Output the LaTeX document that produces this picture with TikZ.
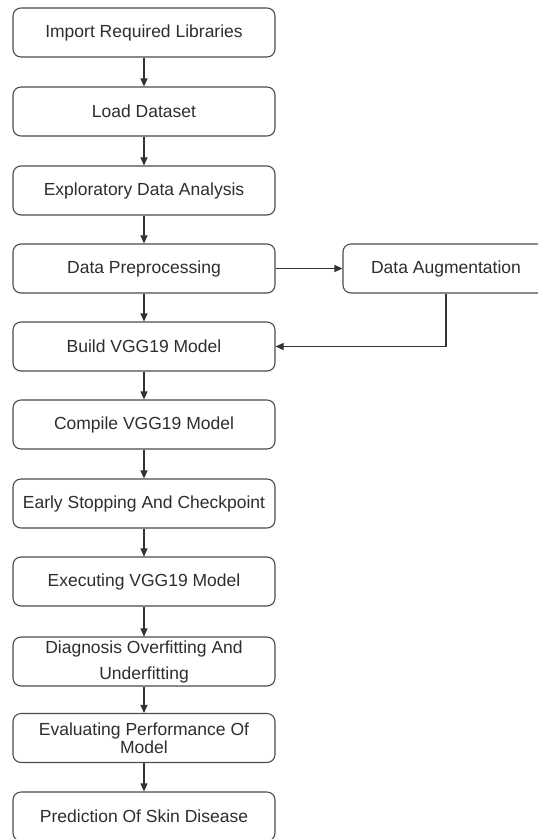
\documentclass[tikz,border=0pt]{standalone}
\usepackage{fontspec}
\setmainfont{Liberation Sans}
\usetikzlibrary{arrows.meta}
\begin{document}
\begin{tikzpicture}[x=1pt,y=-1pt,
  stepbox/.style={draw=black!70, line width=1.1pt, rounded corners=8pt, fill=white,
    minimum width=262pt, minimum height=49pt, inner sep=0pt, align=center,
    text=black!82, font=\fontsize{17.5}{19}\selectfont},
  conn/.style={draw=black!80, line width=1.1pt, -{Triangle[length=8pt,width=7pt]}}]
\useasboundingbox (0,0) rectangle (538,839);
\begin{scope}
\clip (0,0) rectangle (538,839);
\fill[white] (0,0) rectangle (538,839);
\node[stepbox] (n1) at (144,32.5) {Import Required Libraries};
\node[stepbox] (n2) at (144,111.5) {Load Dataset};
\node[stepbox] (n3) at (144,190.5) {Exploratory Data Analysis};
\node[stepbox] (n4) at (144,268.5) {Data Preprocessing};
\node[stepbox] (n5) at (144,346.5) {Build VGG19 Model};
\node[stepbox] (n6) at (144,424.5) {Compile VGG19 Model};
\node[stepbox] (n7) at (144,503.5) {Early Stopping And Checkpoint};
\node[stepbox] (n8) at (144,581.5) {Executing VGG19 Model};
\node[stepbox, font=\fontsize{17.5}{26}\selectfont] (n9) at (144,661.5) {Diagnosis Overfitting And\\Underfitting};
\node[stepbox, font=\fontsize{17.5}{18}\selectfont] (n10) at (144,738) {Evaluating Performance Of\\Model};
\node[stepbox] (n11) at (144,816.5) {Prediction Of Skin Disease};
\node[stepbox, minimum width=206pt] (aug) at (446,268.5) {Data Augmentation};
\draw[conn] (n1) -- (n2);
\draw[conn] (n2) -- (n3);
\draw[conn] (n3) -- (n4);
\draw[conn] (n4) -- (n5);
\draw[conn] (n5) -- (n6);
\draw[conn] (n6) -- (n7);
\draw[conn] (n7) -- (n8);
\draw[conn] (n8) -- (n9);
\draw[conn] (n9) -- (n10);
\draw[conn] (n10) -- (n11);
\draw[conn] (n4) -- (aug);
\draw[conn] (aug.south) |- (n5.east);
\end{scope}
\end{tikzpicture}
\end{document}
